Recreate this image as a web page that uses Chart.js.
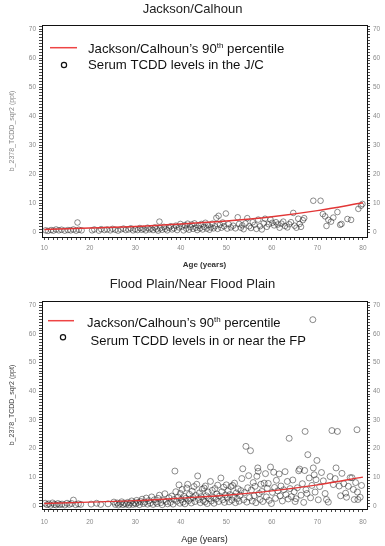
<!DOCTYPE html>
<html>
<head>
<meta charset="utf-8">
<script src="https://cdn.jsdelivr.net/npm/chart.js@4.4.1/dist/chart.umd.min.js"></script>
<style>
  body { margin: 0; background: #fff; }
  .panel { width: 385px; height: 273px; }
</style>
</head>
<body>
<div class="panel"><canvas id="jc_chart" width="385" height="273"></canvas></div>
<div class="panel"><canvas id="fp_chart" width="385" height="273"></canvas></div>
<script>
// 90th percentile curve for Jackson/Calhoun (same curve in both panels)
const percentileAge = [10, 20, 30, 40, 50, 60, 70, 80];
const percentileTcdd = [0.9, 1.4, 1.9, 2.8, 3.8, 5.3, 7.4, 10.1];

// Jackson/Calhoun serum levels
const jcAge = [
  10.3, 10.8, 11.5, 12.0, 12.6, 13.2, 13.8, 14.5, 15.2, 15.8, 16.4, 17.0, 17.3, 17.6, 18.2,
  20.5, 21.0, 22.0, 22.5, 23.2, 23.8, 24.5, 25.0, 25.6, 26.2, 26.8, 27.4, 27.9, 28.5, 29.0, 29.5,
  30.0, 30.5, 31.0, 31.4, 31.8, 32.3, 32.7, 33.1, 33.5, 33.9, 34.3, 34.7, 35.0, 35.3, 35.5, 35.9,
  36.3, 36.6, 37.0, 37.4, 37.8, 38.1, 38.5, 38.9, 39.2, 39.6, 39.9,
  40.3, 40.6, 40.9, 41.2, 41.5, 41.8, 42.1, 42.4, 42.7, 43.0, 43.3, 43.6, 43.9, 44.2, 44.5, 44.8,
  45.1, 45.4, 45.7, 46.0, 46.3, 46.6, 46.9, 47.2, 47.5, 47.8, 48.1, 48.3, 48.6, 48.9, 49.2, 49.5,
  49.9, 50.2, 50.5,
  51.0, 51.5, 52.0, 52.5, 52.8, 53.2, 53.5, 53.8, 54.2, 54.6, 55.0, 55.4, 55.8, 56.2, 56.6, 57.0, 57.4,
  57.8, 58.2, 58.5, 58.9, 59.3, 59.7, 60.1, 60.5, 60.9, 61.3, 61.7, 62.1, 62.5, 62.9, 63.4, 63.8,
  64.2, 64.7, 65.0, 65.4, 65.8, 66.1, 66.4, 66.8, 67.1,
  69.1, 70.7, 71.2, 71.7, 72.0, 72.4, 73.0, 73.5, 74.4, 75.0, 75.3, 76.6, 77.4, 79.0, 79.6, 79.9
];
const jcTcdd = [
  0.6, 0.4, 0.7, 0.5, 0.9, 0.6, 0.8, 0.5, 0.7, 0.6, 0.9, 0.5, 3.3, 0.8, 0.6,
  0.6, 0.9, 0.5, 1.0, 0.7, 0.9, 0.6, 1.1, 0.8, 0.5, 0.9, 1.2, 0.7, 0.9, 1.3, 0.6,
  1.0, 0.7, 1.4, 0.8, 1.1, 0.6, 1.5, 0.9, 1.2, 0.7, 1.6, 1.0, 0.5, 3.6, 1.3, 0.8,
  1.8, 1.1, 0.6, 1.5, 2.0, 0.9, 1.3, 2.2, 0.7, 1.6, 2.8,
  1.9, 0.6, 2.4, 1.2, 2.9, 0.8, 1.7, 2.6, 1.1, 3.0, 1.5, 0.7, 2.2, 1.3, 2.8, 0.9,
  1.8, 3.2, 1.2, 2.4, 0.8, 1.6, 2.9, 1.3, 2.0, 4.9, 1.1, 5.6, 2.5, 1.5, 3.3, 2.0,
  6.4, 1.2, 2.7,
  1.6, 2.2, 1.3, 5.1, 2.8, 1.5, 2.3, 1.0, 3.0, 4.8, 2.0, 1.4, 3.4, 2.5, 1.1, 4.3, 2.0,
  0.9, 3.0, 4.6, 1.8, 2.7, 4.3, 3.2, 2.3, 3.4, 2.6, 1.5, 2.9, 3.6, 2.1, 1.6, 2.7,
  3.4, 6.6, 2.2, 1.5, 4.6, 2.8, 1.8, 4.1, 4.8,
  10.8, 10.8, 6.2, 5.4, 2.1, 4.2, 3.6, 5.0, 6.9, 2.5, 2.8, 4.5, 4.2, 8.0, 9.1, 9.7
];

// Flood plain / near flood plain serum levels
const fpAge = [
  10.2, 10.6, 11.0, 11.4, 11.8, 12.2, 12.6, 13.0, 13.4, 13.9, 14.5, 15.0, 15.5, 16.0, 16.4, 16.9, 17.5, 18.0,
  20.3, 21.5, 22.4, 24.0,
  25.3, 25.6, 26.0, 26.3, 26.7, 27.0, 27.3, 27.6, 28.0, 28.3, 28.6, 28.9, 29.2, 29.5, 29.8,
  30.1, 30.3, 30.6, 30.9, 31.2, 31.5, 31.8, 32.1, 32.4, 32.7, 33.0, 33.3, 33.6, 33.9, 34.2, 34.5, 34.8,
  35.0, 35.3, 35.6, 35.9, 36.2, 36.5, 36.8, 37.1, 37.4, 37.7, 38.0, 38.3, 38.5, 38.7, 38.9, 39.1, 39.4, 39.6, 39.8, 39.9,
  40.1, 40.3, 40.5, 40.7, 40.9, 41.1, 41.3, 41.5, 41.7, 41.9, 42.1, 42.3, 42.5, 42.7, 42.9, 43.1, 43.3, 43.5, 43.7, 43.9,
  44.1, 44.3, 44.5, 44.7, 44.9,
  45.1, 45.3, 45.4, 45.6, 45.8, 46.0, 46.2, 46.5, 46.7, 46.9, 47.1, 47.3, 47.5, 47.7, 47.9, 48.1, 48.3, 48.5, 48.8,
  49.0, 49.2, 49.4, 49.6, 49.8,
  50.0, 50.2, 50.4, 50.6, 50.8, 51.0, 51.2, 51.4, 51.6, 51.8, 52.0, 52.2, 52.4, 52.6, 52.8, 53.0, 53.2, 53.4, 53.6,
  53.8, 54.0, 54.3, 54.5, 54.7, 54.9, 55.1, 55.3, 55.5, 55.7, 55.9,
  56.1, 56.3, 56.5, 56.7, 56.9, 57.0, 57.2, 57.4, 57.6, 57.8, 58.0, 58.3, 58.6, 58.8, 59.0, 59.2, 59.4, 59.7, 59.9,
  60.1, 60.4, 60.6, 60.8, 61.0, 61.3, 61.6, 61.8, 62.0, 62.3, 62.6, 62.9, 63.1, 63.4, 63.6, 63.8, 64.0, 64.3, 64.6, 64.9,
  65.1, 65.3, 65.6, 65.9, 66.1, 66.4, 66.7, 67.0, 67.2, 67.3, 67.5, 67.7, 67.9, 68.2, 68.5, 68.8, 69.0, 69.1, 69.3,
  69.5, 69.7, 69.9,
  70.2, 70.5, 70.9, 71.3, 71.7, 72.0, 72.4, 72.8, 73.2, 73.5, 73.9, 74.1, 74.4, 74.8, 75.1, 75.4, 75.8, 76.2, 76.4,
  76.8, 77.2, 77.6, 77.9, 78.1, 78.4, 78.7, 78.8, 78.9, 79.4, 79.7
];
const fpTcdd = [
  1.0, 0.5, 0.8, 0.3, 1.1, 0.6, 0.4, 0.9, 0.5, 0.7, 0.4, 1.0, 0.6, 0.9, 2.1, 0.5, 0.8, 0.6,
  0.7, 1.0, 0.6, 0.8,
  1.4, 0.6, 1.1, 0.4, 0.9, 1.5, 0.5, 1.0, 0.7, 1.3, 0.4, 1.1, 1.8, 0.6, 1.2,
  0.8, 2.0, 1.3, 0.5, 1.6, 2.4, 0.9, 1.4, 2.8, 0.7, 1.9, 1.1, 3.2, 0.6, 2.2, 1.4, 0.9,
  2.7, 3.8, 1.2, 0.5, 2.0, 4.3, 1.6, 0.8, 2.9, 1.3, 3.5, 0.7, 2.3, 12.2, 5.0, 1.7, 3.1, 7.4, 1.0, 4.4,
  2.2, 5.8, 1.4, 3.4, 0.8, 2.7, 6.3, 7.6, 1.9, 4.1, 2.5, 1.1, 5.2, 3.0, 6.8, 1.6, 3.7, 7.6, 10.5, 2.3,
  4.6, 1.2, 3.3, 5.9, 2.0,
  6.3, 1.5, 7.0, 3.6, 0.9, 4.9, 2.6, 8.6, 1.8, 5.5, 3.1, 1.0, 6.1, 2.4, 4.2, 7.3, 1.6, 3.5, 9.8,
  5.0, 2.2, 6.6, 1.3, 3.9,
  7.4, 2.8, 5.3, 1.5, 4.0, 6.8, 2.1, 7.2, 3.4, 8.0, 1.2, 4.6, 2.6, 6.0, 1.7, 3.8, 5.4, 9.6, 13.0,
  2.2, 4.7, 20.8, 1.4, 6.4, 10.6, 3.0, 19.3, 5.6, 1.8, 8.2,
  3.6, 6.9, 1.2, 10.4, 13.3, 12.1, 4.4, 2.3, 7.6, 5.1, 1.6, 8.0, 11.3, 3.2, 6.2, 7.9, 2.0, 13.6, 0.9,
  4.8, 11.8, 6.5, 2.7, 9.0, 5.3, 11.2, 3.6, 7.0, 1.8, 5.7, 12.0, 4.0, 8.6, 2.5, 23.6, 6.1, 3.3, 9.1, 5.0,
  1.6, 2.6, 6.4, 12.3, 12.9, 3.8, 7.8, 1.3, 12.4, 26.0, 5.7, 4.4, 17.9, 9.8, 2.9, 7.2, 64.9, 13.3, 10.9,
  4.9, 9.2, 15.9,
  2.2, 6.8, 11.7, 8.8, 4.4, 2.3, 1.4, 10.3, 26.3, 7.5, 9.6, 13.3, 26.0, 7.0, 3.6, 11.4, 7.8, 4.5, 3.1,
  6.9, 9.9, 9.9, 5.8, 2.3, 8.2, 26.6, 4.9, 2.3, 3.1, 7.2
];

const xTickLabels = [10, 20, 30, 40, 50, 60, 70, 80];
const yTickLabels = [0, 10, 20, 30, 40, 50, 60, 70];

const fontFamily = '"Liberation Sans", Arial, sans-serif';

const framePlugin = {
  id: 'frame',
  afterDatasetsDraw(chart) {
    const { ctx, chartArea: a } = chart;
    ctx.save();
    ctx.strokeStyle = '#111';
    ctx.lineWidth = 1;
    ctx.strokeRect(Math.round(a.left) + 0.5, Math.round(a.top) + 0.5,
      Math.round(a.right - a.left), Math.round(a.bottom - a.top));
    ctx.restore();
  }
};

// legend drawn by hand so that "th" can be a superscript
const legendPlugin = {
  id: 'sketchLegend',
  afterDraw(chart, args, o) {
    const ctx = chart.ctx;
    ctx.save();
    ctx.strokeStyle = '#ee4444';
    ctx.lineWidth = 1.5;
    ctx.beginPath();
    ctx.moveTo(o.lineX0, o.lineY);
    ctx.lineTo(o.lineX1, o.lineY);
    ctx.stroke();

    ctx.strokeStyle = '#111';
    ctx.lineWidth = 1.2;
    ctx.beginPath();
    ctx.arc(o.circleX, o.circleY, 2.6, 0, Math.PI * 2);
    ctx.stroke();

    ctx.fillStyle = '#111';
    ctx.textBaseline = 'middle';
    ctx.font = o.fontSize + 'px ' + fontFamily;
    let x = o.textX;
    const a = 'Jackson/Calhoun\u2019s 90';
    ctx.fillText(a, x, o.text1Y);
    x += ctx.measureText(a).width;
    ctx.font = '8px ' + fontFamily;
    ctx.fillText('th', x, o.text1Y - 4);
    x += ctx.measureText('th').width;
    ctx.font = o.fontSize + 'px ' + fontFamily;
    ctx.fillText(' percentile', x, o.text1Y);
    ctx.fillText(o.text2, o.text2X, o.text2Y);
    ctx.restore();
  }
};

function makeChart(canvasId, cfg) {
  const tickLabelFont = { family: fontFamily, size: 6.5 };
  const yScale = (position, width) => ({
    type: 'linear',
    position,
    min: cfg.yMin,
    max: 71.4,
    afterFit: (scale) => { scale.width = width; },
    border: { display: false },
    grid: {
      drawOnChartArea: false,
      tickLength: 3,
      tickWidth: 0.9,
      tickColor: (c) => (c.tick && c.tick.value < 0 ? 'rgba(0,0,0,0)' : '#333')
    },
    ticks: {
      stepSize: 1,
      includeBounds: false,
      autoSkip: false,
      maxTicksLimit: 200,
      padding: 3,
      color: '#8a8a8a',
      font: tickLabelFont,
      callback: (v) => (yTickLabels.includes(v) ? String(v) : '')
    },
    title: position === 'left' ? {
      display: true,
      text: 'b_2378_TCDD_sqr2 (ppt)',
      color: cfg.yTitleColor,
      font: { family: fontFamily, size: 7 },
      padding: { top: 8, bottom: 0 }
    } : { display: false }
  });

  return new Chart(document.getElementById(canvasId).getContext('2d'), {
    data: {
      datasets: [
        {
          type: 'line',
          label: 'Jackson/Calhoun 90th percentile',
          data: percentileAge.map((x, i) => ({ x, y: percentileTcdd[i] })),
          borderColor: '#e23636',
          borderWidth: 1.4,
          pointRadius: 0,
          cubicInterpolationMode: 'monotone',
          fill: false
        },
        {
          type: 'scatter',
          label: cfg.serumLabel,
          data: cfg.ages.map((x, i) => ({ x, y: cfg.values[i] })),
          pointStyle: 'circle',
          pointRadius: cfg.pointRadius,
          pointBorderWidth: 1,
          borderColor: 'rgba(30,30,30,0.5)',
          backgroundColor: 'rgba(0,0,0,0)'
        }
      ]
    },
    options: {
      responsive: false,
      animation: false,
      layout: { padding: 0 },
      scales: {
        x: {
          type: 'linear',
          position: 'bottom',
          min: 9.5,
          max: 80.9,
          afterFit: (scale) => { scale.height = cfg.xHeight; },
          border: { display: false },
          grid: { drawOnChartArea: false, tickLength: 3, tickWidth: 0.9, tickColor: '#333' },
          ticks: {
            stepSize: 1,
            includeBounds: false,
            autoSkip: false,
            maxTicksLimit: 200,
            maxRotation: 0,
            padding: cfg.xTickPadding,
            color: '#8a8a8a',
            font: tickLabelFont,
            callback: (v) => (xTickLabels.includes(v) ? String(v) : '')
          },
          title: {
            display: true,
            text: 'Age (years)',
            color: cfg.xTitleColor,
            font: cfg.xTitleFont,
            padding: { top: 0, bottom: cfg.xTitlePad }
          }
        },
        y: yScale('left', 42),
        y2: yScale('right', 18)
      },
      plugins: {
        legend: { display: false },
        tooltip: { enabled: false },
        title: {
          display: true,
          text: cfg.title,
          color: '#222',
          font: { family: fontFamily, size: 13, weight: 'normal' },
          padding: cfg.titlePadding
        },
        sketchLegend: cfg.legend
      }
    },
    plugins: [framePlugin, legendPlugin]
  });
}

makeChart('jc_chart', {
  title: 'Jackson/Calhoun',
  titlePadding: { top: 1.2, bottom: 8.2 },
  serumLabel: 'Serum TCDD levels in the J/C',
  ages: jcAge,
  values: jcTcdd,
  yMin: -1.7,
  pointRadius: 2.8,
  xHeight: 36,
  xTickPadding: 4,
  xTitleColor: '#333',
  xTitleFont: { family: fontFamily, size: 8, weight: 'bold' },
  xTitlePad: 3.2,
  yTitleColor: '#888',
  legend: {
    fontSize: 13.2,
    lineX0: 50, lineX1: 77, lineY: 47.7,
    circleX: 64, circleY: 65,
    textX: 88, text1Y: 49.5,
    text2: 'Serum TCDD levels in the J/C', text2X: 88, text2Y: 65.5
  }
});

makeChart('fp_chart', {
  title: 'Flood Plain/Near Flood Plain',
  titlePadding: { top: 3.2, bottom: 9.2 },
  serumLabel: 'Serum TCDD levels in or near the FP',
  ages: fpAge,
  values: fpTcdd,
  yMin: -1.0,
  pointRadius: 3,
  xHeight: 37,
  xTickPadding: 6,
  xTitleColor: '#222',
  xTitleFont: { family: fontFamily, size: 9, weight: 'normal' },
  xTitlePad: 0.6,
  yTitleColor: '#444',
  legend: {
    fontSize: 13,
    lineX0: 48, lineX1: 74, lineY: 47.7,
    circleX: 63, circleY: 64.3,
    textX: 87, text1Y: 50.3,
    text2: ' Serum TCDD levels in or near the FP', text2X: 87, text2Y: 68.7
  }
});
</script>
</body>
</html>
